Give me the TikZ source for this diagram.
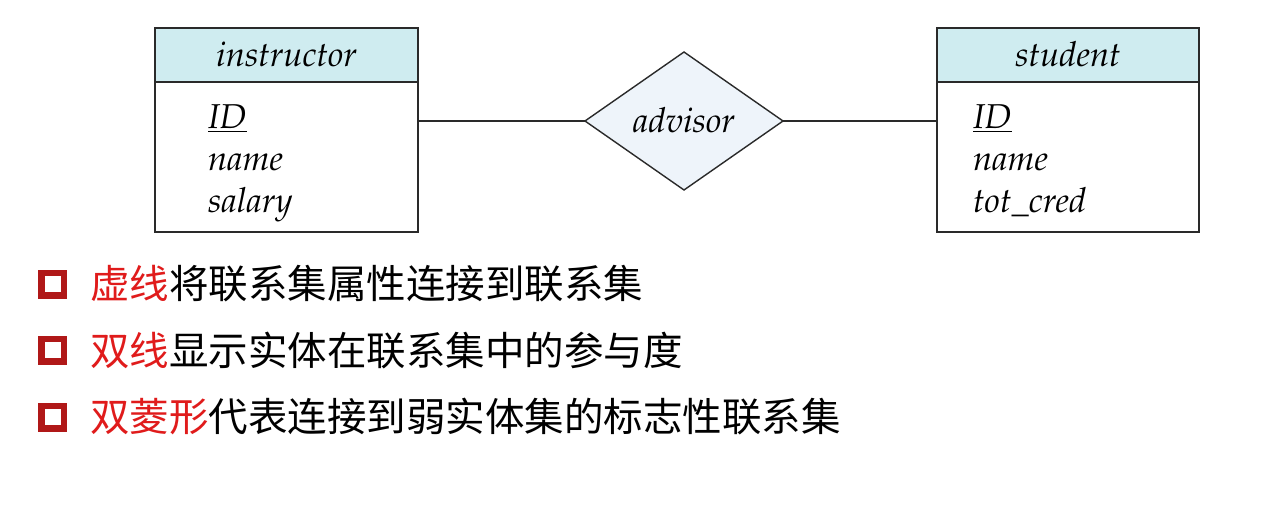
\documentclass[tikz,border=0pt]{standalone}
\usepackage[T1]{fontenc}
\usepackage{fontspec}
\newfontfamily\cjk{Noto Sans CJK SC}
\newcommand\palit{\fontencoding{T1}\fontfamily{ppl}\selectfont\itshape}
\definecolor{hdr}{HTML}{CFECF0}
\definecolor{dia}{HTML}{EEF4FA}
\definecolor{edge}{HTML}{2A2A2A}
\definecolor{bulred}{HTML}{B01818}
\definecolor{txtred}{HTML}{E01B1B}
\tikzset{
  ent/.style={draw=edge, line width=1.4pt},
  hdrbox/.style={draw=edge, line width=1.4pt, fill=hdr},
  lbl/.style={font=\palit\fontsize{34.5}{40}\selectfont, inner sep=0pt},
  attr/.style={lbl, anchor=base west},
  conn/.style={draw=edge, line width=1.4pt},
  bul/.style={draw=bulred, line width=6.5pt, minimum size=22.5pt, inner sep=0pt},
  cline/.style={font=\cjk\fontsize{39.5}{44}\selectfont, anchor=base west, inner sep=0pt},
}
\begin{document}
\begin{tikzpicture}[x=1pt,y=-1pt]
\useasboundingbox[fill=white] (0,0) rectangle (1274,524);
% instructor
\draw[ent,fill=white] (155,28) rectangle (418,232);
\draw[hdrbox] (155,28) rectangle (418,82);
\node[lbl, anchor=base] (ihead) at (286.5,67) {instructor};
\node[attr] (iid) at (208,129) {\underline{ID}};
\node[attr] (iname) at (208,170.5) {name};
\node[attr] (isal) at (208,212) {salary};
\coordinate (iR) at (418,121);
% student
\draw[ent,fill=white] (937,28) rectangle (1199,232);
\draw[hdrbox] (937,28) rectangle (1199,82);
\node[lbl, anchor=base] (shead) at (1068,67) {student};
\node[attr] (sid) at (973,129) {\underline{ID}};
\node[attr] (sname) at (973,170.5) {name};
\node[attr] (stot) at (973,212) {tot\_cred};
\coordinate (sL) at (937,121);
% diamond
\draw[ent, fill=dia] (585,121) coordinate (dL) -- (684,52) -- (783,121) coordinate (dR) -- (684,190) -- cycle;
\node[lbl, anchor=base] (adv) at (684,132) {advisor};
\draw[conn] (iR) -- (dL);
\draw[conn] (dR) -- (sL);
% bullets
\node[bul] (b1) at (52.5,284) {};
\node[bul] (b2) at (52.5,350) {};
\node[bul] (b3) at (52.5,417) {};
\node[cline] (t1) at (90,298.5) {\textcolor{txtred}{虚线}将联系集属性连接到联系集};
\node[cline] (t2) at (90,365.5) {\textcolor{txtred}{双线}显示实体在联系集中的参与度};
\node[cline] (t3) at (90,431.5) {\textcolor{txtred}{双菱形}代表连接到弱实体集的标志性联系集};
\end{tikzpicture}
\end{document}
